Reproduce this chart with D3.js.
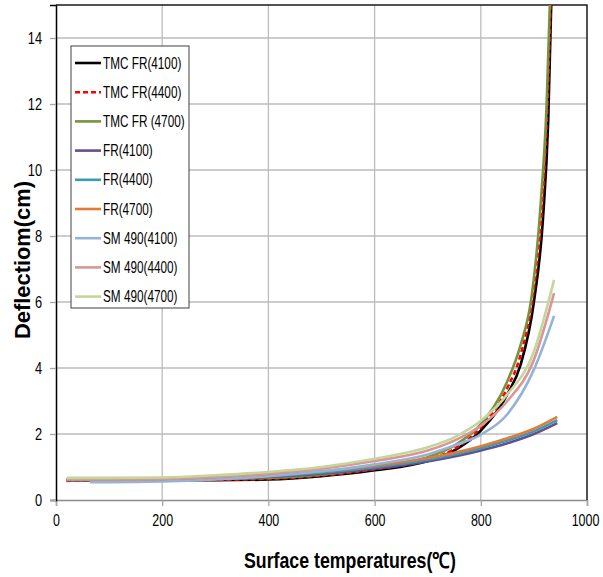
<!DOCTYPE html>
<meta charset="utf-8">
<style>
    body { margin: 0; background: #fff; }
    text { font-family: "Liberation Sans", Arial, sans-serif; fill: #000; }
    .grid line { stroke: #bdbdbd; stroke-width: 1.3px; }
    .curve { fill: none; stroke-width: 2.6px; }
</style>
<body>
<script src="https://d3js.org/d3.v7.min.js"></script>
<script>
    // deflection (cm), as [temperature, deflection]
    const tmcFr4100 = [[20,0.6],[100,0.6],[200,0.6],[300,0.6],[400,0.62],[500,0.72],[600,0.9],[700,1.18],[750,1.5],[800,2.1],[850,3.2],[875,4.1],[900,6.0],[917,8.5],[927,11.5],[935,16.5]];
    const tmcFr4400 = [[20,0.58],[100,0.59],[200,0.6],[300,0.61],[400,0.64],[500,0.74],[600,0.93],[700,1.22],[750,1.55],[800,2.2],[850,3.4],[875,4.4],[900,6.4],[915,8.8],[925,11.8],[934,16.5]];
    const tmcFr4700 = [[20,0.62],[100,0.62],[200,0.63],[300,0.64],[400,0.67],[500,0.77],[600,0.97],[700,1.3],[750,1.65],[800,2.3],[850,3.6],[875,4.7],[896,6.2],[912,8.8],[924,12],[933,16.5]];
    const fr4100 = [[20,0.6],[100,0.6],[200,0.61],[300,0.64],[400,0.7],[500,0.8],[600,0.95],[700,1.17],[750,1.32],[800,1.5],[850,1.72],[900,2.0],[944,2.33]];
    const fr4400 = [[20,0.61],[100,0.61],[200,0.62],[300,0.66],[400,0.72],[500,0.83],[600,0.99],[700,1.22],[750,1.38],[800,1.57],[850,1.8],[900,2.08],[944,2.42]];
    const fr4700 = [[20,0.62],[100,0.62],[200,0.64],[300,0.68],[400,0.75],[500,0.87],[600,1.04],[700,1.27],[750,1.43],[800,1.63],[850,1.87],[900,2.16],[944,2.52]];
    const sm4100 = [[64,0.54],[100,0.54],[200,0.56],[300,0.62],[400,0.72],[500,0.87],[600,1.08],[700,1.38],[750,1.65],[800,1.98],[850,2.6],[900,3.95],[938,5.58]];
    const sm4400 = [[20,0.62],[100,0.62],[200,0.64],[300,0.7],[400,0.8],[500,0.95],[600,1.18],[700,1.5],[750,1.8],[800,2.25],[850,3.0],[900,4.25],[938,6.27]];
    const sm4700 = [[20,0.67],[100,0.67],[200,0.68],[300,0.75],[400,0.85],[500,1.0],[600,1.25],[700,1.6],[750,1.9],[800,2.4],[850,3.2],[900,4.5],[938,6.67]];

    const names = ['TMC FR(4100)','TMC FR(4400)','TMC FR (4700)','FR(4100)','FR(4400)','FR(4700)','SM 490(4100)','SM 490(4400)','SM 490(4700)'];
    const values = [tmcFr4100, tmcFr4400, tmcFr4700, fr4100, fr4400, fr4700, sm4100, sm4400, sm4700];
    const colors = ['#000000','#ff0000','#77933c','#664e8f','#3b9bb4','#e07b39','#95b3d7','#d99694','#c3d69b'];
    const dashed = [false, true, false, false, false, false, false, false, false];

    const xTicks = [0, 200, 400, 600, 800, 1000];
    const yTicks = [0, 2, 4, 6, 8, 10, 12, 14];

    const width = 603, height = 577;
    const m = {left: 56, right: 16, top: 5, bottom: 77};

    const svg = d3.select('body').append('svg')
        .attr('width', width)
        .attr('height', height);

    const x = d3.scaleLinear().domain([0, 1000]).range([m.left, width - m.right]);
    const y = d3.scaleLinear().domain([0, 15]).range([height - m.bottom, m.top]);

    // squeeze text sideways, the reference font is a narrow one
    function condense(sel, k) {
        sel.each(function() {
            const t = d3.select(this);
            const x0 = +t.attr('x') || 0;
            t.attr('x', x0 / k).attr('transform', `scale(${k},1)`);
        });
    }

    // grid
    svg.append('g').attr('class', 'grid')
        .selectAll('line').data(xTicks.slice(1, -1)).enter().append('line')
        .attr('x1', d => x(d)).attr('x2', d => x(d))
        .attr('y1', y(15)).attr('y2', y(0));
    svg.append('g').attr('class', 'grid')
        .selectAll('line').data(yTicks.slice(1)).enter().append('line')
        .attr('x1', x(0)).attr('x2', x(1000))
        .attr('y1', d => y(d)).attr('y2', d => y(d));

    // axes
    const xAxis = svg.append('g')
        .attr('transform', `translate(0,${y(0)})`)
        .call(d3.axisBottom(x).tickValues(xTicks).tickFormat(d3.format('d')).tickSize(6).tickPadding(12));
    xAxis.select('.domain').attr('stroke', '#8c8c8c').attr('stroke-width', 1.5);
    xAxis.selectAll('.tick line').attr('stroke', '#a6a6a6').attr('stroke-width', 1.3);
    xAxis.selectAll('text').attr('font-size', 16).attr('font-family', '"Liberation Sans", Arial, sans-serif').attr('dy', '0.5em');
    // last label sits at the window edge, keep it inside
    xAxis.selectAll('text').filter(d => d === 1000).attr('x', -2);
    xAxis.selectAll('text').call(condense, 0.78);

    const yAxis = svg.append('g')
        .attr('transform', `translate(${x(0)},0)`)
        .call(d3.axisLeft(y).tickValues(yTicks).tickFormat(d3.format('d')).tickSize(6).tickPadding(8));
    yAxis.select('.domain').attr('stroke', '#000').attr('stroke-width', 1.5);
    yAxis.selectAll('.tick line').attr('stroke', '#a6a6a6').attr('stroke-width', 1.3);
    yAxis.selectAll('text').attr('font-size', 16).attr('font-family', '"Liberation Sans", Arial, sans-serif').call(condense, 0.8);

    // top and right border
    svg.append('path')
        .attr('d', `M${x(0)},${y(15)}H${x(1000)}V${y(0)}`)
        .attr('fill', 'none').attr('stroke', '#1a1a1a').attr('stroke-width', 1.5);

    // legend
    const lg = svg.append('g');
    lg.append('rect')
        .attr('x', 71).attr('y', 46).attr('width', 118).attr('height', 262)
        .attr('fill', '#fff').attr('stroke', '#404040').attr('stroke-width', 1);
    const item = lg.selectAll('g').data(names).enter().append('g')
        .attr('transform', (d, i) => `translate(0,${63 + i * 29.2})`);
    item.append('line')
        .attr('x1', 75).attr('x2', 101)
        .attr('stroke', (d, i) => colors[i])
        .attr('stroke-width', 2.6)
        .attr('stroke-dasharray', (d, i) => dashed[i] ? '5,3' : null);
    item.append('text')
        .attr('x', 103).attr('dy', '0.35em')
        .attr('font-size', 16)
        .text(d => d)
        .call(condense, 0.735);

    // curves
    svg.append('clipPath').attr('id', 'plot')
        .append('rect').attr('x', x(0)).attr('y', y(15))
        .attr('width', x(1000) - x(0)).attr('height', y(0) - y(15));

    const line = d3.line()
        .x(d => x(d[0]))
        .y(d => y(d[1]))
        .curve(d3.curveMonotoneX);

    svg.append('g').attr('clip-path', 'url(#plot)')
        .selectAll('path').data(values).enter().append('path')
        .attr('class', 'curve')
        .attr('d', line)
        .attr('stroke', (d, i) => colors[i])
        .attr('stroke-dasharray', (d, i) => dashed[i] ? '5,3' : null);

    // axis titles
    svg.append('text')
        .attr('x', 350).attr('y', 568)
        .attr('text-anchor', 'middle')
        .attr('font-size', 22).attr('font-weight', 'bold')
        .attr('textLength', 212).attr('lengthAdjust', 'spacingAndGlyphs')
        .text('Surface temperatures(℃)');

    svg.append('text')
        .attr('transform', 'translate(30,260) rotate(-90)')
        .attr('text-anchor', 'middle')
        .attr('font-size', 22).attr('font-weight', 'bold')
        .attr('textLength', 158).attr('lengthAdjust', 'spacingAndGlyphs')
        .text('Deflectiom(cm)');
</script>
</body>
